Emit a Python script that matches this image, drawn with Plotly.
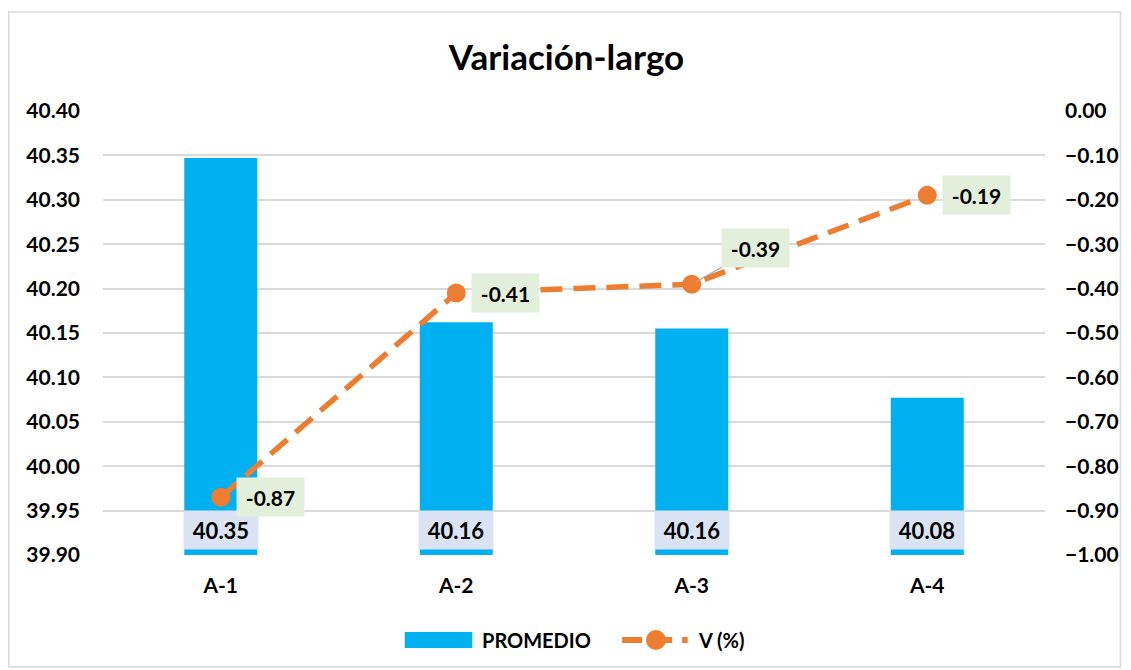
import plotly.graph_objects as go

categories = ["A-1", "A-2", "A-3", "A-4"]
promedio = [40.347, 40.162, 40.155, 40.077]
promedio_labels = ["40.35", "40.16", "40.16", "40.08"]
variacion = [-0.87, -0.41, -0.39, -0.19]
variacion_labels = ["-0.87", "-0.41", "-0.39", "-0.19"]

left_ticks = [39.90 + 0.05 * i for i in range(11)]
right_ticks = [-1.0 + 0.1 * i for i in range(11)]

FONT = "Lato"
BAR = "#00B0F0"
LINE = "#ED7D31"

# page has an 8px body margin; figure sized/placed to compensate
W, H = 1123, 662
L, T, PW, PH = 95, 103, 949, 444


def px(sx):  # screen x -> paper x
    return (sx - 8 - L) / PW


def py(sy):  # screen y -> paper y
    return (T + PH - (sy - 8)) / PH


fig = go.Figure()
fig.add_trace(go.Bar(
    x=categories, y=promedio, name="PROMEDIO",
    marker=dict(color=BAR, line=dict(width=0)),
    width=0.31, yaxis="y", showlegend=False,
))
fig.add_trace(go.Scatter(
    x=categories, y=variacion, name="V (%)", yaxis="y2",
    mode="lines+markers", showlegend=False,
    line=dict(color=LINE, width=5.5, dash="22px,11px"),
    marker=dict(color=LINE, size=19, symbol="circle"),
))

annotations = []
for c, lab in zip(categories, promedio_labels):
    annotations.append(dict(
        x=c, y=39.90, xref="x", yref="y", text="<b>%s</b>" % lab,
        showarrow=False, yanchor="bottom", yshift=5,
        font=dict(family=FONT, size=22, color="#000000"),
        bgcolor="#DAE3F3", width=62, height=26, borderpad=6,
    ))
lab_font = dict(family=FONT, size=21, color="#000000")
for i, (c, v, lab) in enumerate(zip(categories, variacion, variacion_labels)):
    if i == 2:
        annotations.append(dict(
            x=c, y=v, xref="x", yref="y2", text="<b>%s</b>" % lab,
            showarrow=True, arrowhead=0, arrowwidth=1.3, arrowcolor="#A6A6A6",
            ax=64, ay=-36, standoff=5,
            font=lab_font, bgcolor="#E2EFDA", width=55, height=26, borderpad=6,
        ))
    else:
        annotations.append(dict(
            x=c, y=v, xref="x", yref="y2", text="<b>%s</b>" % lab,
            showarrow=False, xanchor="left", xshift=15,
            font=lab_font, bgcolor="#E2EFDA", width=55, height=26, borderpad=6,
        ))

# custom legend
leg_font = dict(family=FONT, size=20, color="#000000")
annotations.append(dict(x=px(483), y=py(640), xref="paper", yref="paper",
                        text="<b>PROMEDIO</b>", showarrow=False,
                        xanchor="left", yanchor="middle", font=leg_font))
annotations.append(dict(x=px(700), y=py(640), xref="paper", yref="paper",
                        text="<b>V (%)</b>", showarrow=False,
                        xanchor="left", yanchor="middle", font=leg_font))

shapes = [
    dict(type="rect", xref="paper", yref="paper",
         x0=px(8), x1=px(1128), y0=py(667), y1=py(12),
         line=dict(color="#D9D9D9", width=1.5), fillcolor="rgba(0,0,0,0)",
         layer="below"),
    dict(type="rect", xref="paper", yref="paper",
         x0=px(407), x1=px(475), y0=py(648), y1=py(632),
         line=dict(width=0), fillcolor=BAR),
    dict(type="line", xref="paper", yref="paper",
         x0=px(626), x1=px(692), y0=py(640), y1=py(640),
         line=dict(color=LINE, width=6, dash="20px,10px")),
    dict(type="circle", xref="paper", yref="paper",
         x0=px(650), x1=px(670), y0=py(650), y1=py(630),
         line=dict(width=0), fillcolor=LINE),
]

tick_font = dict(family=FONT, size=21, color="#000000", weight="bold")
fig.update_layout(
    width=W, height=H,
    margin=dict(l=L, r=W - L - PW, t=T, b=H - T - PH, pad=0),
    paper_bgcolor="white", plot_bgcolor="white",
    title=dict(text="<b>Variación-largo</b>", x=px(575), xanchor="center",
               y=1 - 50 / H, yanchor="middle",
               font=dict(family=FONT, size=35, color="#000000")),
    font=dict(family=FONT, color="#000000"),
    showlegend=False,
    xaxis=dict(showgrid=False, showline=False, ticks="", ticklabelstandoff=16,
               tickfont=tick_font),
    yaxis=dict(range=[39.90, 40.40], tickvals=left_ticks, tickformat=".2f",
               showgrid=True, gridcolor="#D9D9D9", gridwidth=1.5,
               zeroline=False, showline=False, ticks="", ticklabelstandoff=22,
               tickfont=tick_font),
    yaxis2=dict(range=[-1.0, 0.0], tickvals=right_ticks, tickformat=".2f",
                overlaying="y", side="right", showgrid=False, zeroline=False,
                showline=False, ticks="", ticklabelstandoff=19,
                tickfont=tick_font),
    bargap=0.69,
    annotations=annotations,
    shapes=shapes,
)

fig.write_html("out.html")
